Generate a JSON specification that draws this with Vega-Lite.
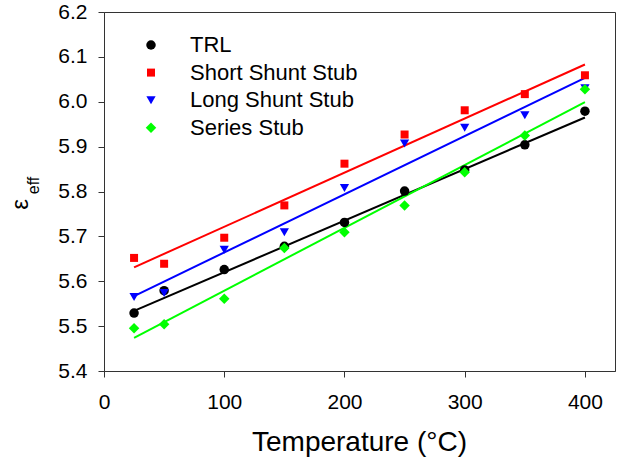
{
  "$schema": "https://vega.github.io/schema/vega-lite/v6.json",
  "width": 511,
  "height": 359,
  "autosize": {"type": "none"},
  "padding": {"left": 104, "top": 12, "right": 18, "bottom": 90},
  "background": "white",
  "config": {
    "font": "Liberation Sans",
    "view": {"stroke": "#333333", "strokeWidth": 1},
    "axis": {
      "grid": false,
      "domainColor": "#333333",
      "tickColor": "#333333",
      "labelColor": "black",
      "titleColor": "black",
      "labelFont": "Liberation Sans",
      "titleFont": "Liberation Sans",
      "titleFontWeight": "normal",
      "labelFontSize": 21,
      "tickSize": 6,
      "domainWidth": 1,
      "tickWidth": 1,
      "labelFlush": false,
      "labelOverlap": false
    }
  },
  "datasets": {
    "points": [
      {"series": "TRL", "t": 25, "eps": 5.529},
      {"series": "TRL", "t": 50, "eps": 5.579},
      {"series": "TRL", "t": 100, "eps": 5.626},
      {"series": "TRL", "t": 150, "eps": 5.678},
      {"series": "TRL", "t": 200, "eps": 5.731},
      {"series": "TRL", "t": 250, "eps": 5.801},
      {"series": "TRL", "t": 300, "eps": 5.848},
      {"series": "TRL", "t": 350, "eps": 5.904},
      {"series": "TRL", "t": 400, "eps": 5.979},
      {"series": "Short Shunt Stub", "t": 25, "eps": 5.652},
      {"series": "Short Shunt Stub", "t": 50, "eps": 5.639},
      {"series": "Short Shunt Stub", "t": 100, "eps": 5.697},
      {"series": "Short Shunt Stub", "t": 150, "eps": 5.769},
      {"series": "Short Shunt Stub", "t": 200, "eps": 5.862},
      {"series": "Short Shunt Stub", "t": 250, "eps": 5.927},
      {"series": "Short Shunt Stub", "t": 300, "eps": 5.981},
      {"series": "Short Shunt Stub", "t": 350, "eps": 6.017},
      {"series": "Short Shunt Stub", "t": 400, "eps": 6.059},
      {"series": "Long Shunt Stub", "t": 25, "eps": 5.565},
      {"series": "Long Shunt Stub", "t": 50, "eps": 5.574},
      {"series": "Long Shunt Stub", "t": 100, "eps": 5.670},
      {"series": "Long Shunt Stub", "t": 150, "eps": 5.709},
      {"series": "Long Shunt Stub", "t": 200, "eps": 5.808},
      {"series": "Long Shunt Stub", "t": 250, "eps": 5.907},
      {"series": "Long Shunt Stub", "t": 300, "eps": 5.942},
      {"series": "Long Shunt Stub", "t": 350, "eps": 5.970},
      {"series": "Long Shunt Stub", "t": 400, "eps": 6.030},
      {"series": "Series Stub", "t": 25, "eps": 5.495},
      {"series": "Series Stub", "t": 50, "eps": 5.504},
      {"series": "Series Stub", "t": 100, "eps": 5.561},
      {"series": "Series Stub", "t": 150, "eps": 5.674},
      {"series": "Series Stub", "t": 200, "eps": 5.709},
      {"series": "Series Stub", "t": 250, "eps": 5.769},
      {"series": "Series Stub", "t": 300, "eps": 5.843},
      {"series": "Series Stub", "t": 350, "eps": 5.925},
      {"series": "Series Stub", "t": 400, "eps": 6.028}
    ],
    "fits": [
      {"series": "TRL", "t": 25, "eps": 5.534},
      {"series": "TRL", "t": 400, "eps": 5.965},
      {"series": "Short Shunt Stub", "t": 25, "eps": 5.631},
      {"series": "Short Shunt Stub", "t": 400, "eps": 6.083},
      {"series": "Long Shunt Stub", "t": 25, "eps": 5.567},
      {"series": "Long Shunt Stub", "t": 400, "eps": 6.053},
      {"series": "Series Stub", "t": 25, "eps": 5.474},
      {"series": "Series Stub", "t": 400, "eps": 5.999}
    ]
  },
  "layer": [
    {
      "data": {"name": "fits"},
      "mark": {"type": "line", "strokeWidth": 2},
      "encoding": {
        "x": {
          "field": "t", "type": "quantitative",
          "scale": {"domain": [0, 425], "nice": false, "zero": false},
          "axis": {
            "values": [0, 100, 200, 300, 400],
            "title": "Temperature (°C)",
            "titleFontSize": 28,
            "titleX": 255,
            "titleY": 79,
            "titleAlign": "center",
            "titleBaseline": "alphabetic",
            "labelPadding": 14
          }
        },
        "y": {
          "field": "eps", "type": "quantitative",
          "scale": {"domain": [5.4, 6.2], "nice": false, "zero": false},
          "axis": {
            "orient": "left",
            "title": "eff",
            "labels": false,
            "ticks": false,
            "domain": false,
            "titleFontSize": 16,
            "titleAngle": -90,
            "titleX": -66,
            "titleY": 173,
            "titleAlign": "center",
            "titleBaseline": "alphabetic"
          }
        },
        "stroke": {
          "field": "series", "type": "nominal",
          "scale": {"domain": ["Long Shunt Stub", "Series Stub", "Short Shunt Stub", "TRL"], "range": ["#0000ff", "#00ff00", "#ff0000", "#000000"]},
          "legend": null
        }
      }
    },
    {
      "data": {"name": "points"},
      "mark": {"type": "point", "filled": true, "opacity": 1},
      "encoding": {
        "x": {
          "field": "t", "type": "quantitative",
          "scale": {"domain": [0, 425], "nice": false, "zero": false},
          "axis": {
            "values": [0, 100, 200, 300, 400],
            "title": "Temperature (°C)",
            "titleFontSize": 28,
            "titleX": 255,
            "titleY": 79,
            "titleAlign": "center",
            "titleBaseline": "alphabetic",
            "labelPadding": 14
          }
        },
        "y": {
          "field": "eps", "type": "quantitative",
          "scale": {"domain": [5.4, 6.2], "nice": false, "zero": false},
          "axis": {
            "orient": "left",
            "values": [5.4, 5.5, 5.6, 5.7, 5.8, 5.9, 6.0, 6.1, 6.2],
            "format": ".1f",
            "labelPadding": 11,
            "title": "ε",
            "titleFontSize": 24,
            "titleAngle": -90,
            "titleX": -77,
            "titleY": 192,
            "titleAlign": "center",
            "titleBaseline": "alphabetic"
          }
        },
        "color": {
          "field": "series", "type": "nominal",
          "scale": {"domain": ["TRL", "Short Shunt Stub", "Long Shunt Stub", "Series Stub"], "range": ["#000000", "#ff0000", "#0000ff", "#00ff00"]},
          "legend": {"title": null, "orient": "none", "legendX": 36, "legendY": 22, "padding": 0, "labelFontSize": 22, "labelColor": "black", "labelOffset": 28, "labelLimit": 0, "rowPadding": 5.6, "symbolStrokeWidth": 0, "symbolOpacity": 1}
        },
        "shape": {
          "field": "series", "type": "nominal",
          "scale": {"domain": ["TRL", "Short Shunt Stub", "Long Shunt Stub", "Series Stub"], "range": ["circle", "square", "triangle-down", "diamond"]},
          "legend": {"title": null, "orient": "none", "legendX": 36, "legendY": 22, "padding": 0, "labelFontSize": 22, "labelColor": "black", "labelOffset": 28, "labelLimit": 0, "rowPadding": 5.6, "symbolStrokeWidth": 0, "symbolOpacity": 1}
        },
        "size": {
          "field": "series", "type": "nominal",
          "scale": {"type": "ordinal", "domain": ["TRL", "Short Shunt Stub", "Long Shunt Stub", "Series Stub"], "range": [90, 64, 85, 110]},
          "legend": {"title": null, "orient": "none", "legendX": 36, "legendY": 22, "padding": 0, "labelFontSize": 22, "labelColor": "black", "labelOffset": 28, "labelLimit": 0, "rowPadding": 5.6, "symbolStrokeWidth": 0, "symbolOpacity": 1}
        }
      }
    }
  ],
  "resolve": {"scale": {"y": "independent"}}
}
